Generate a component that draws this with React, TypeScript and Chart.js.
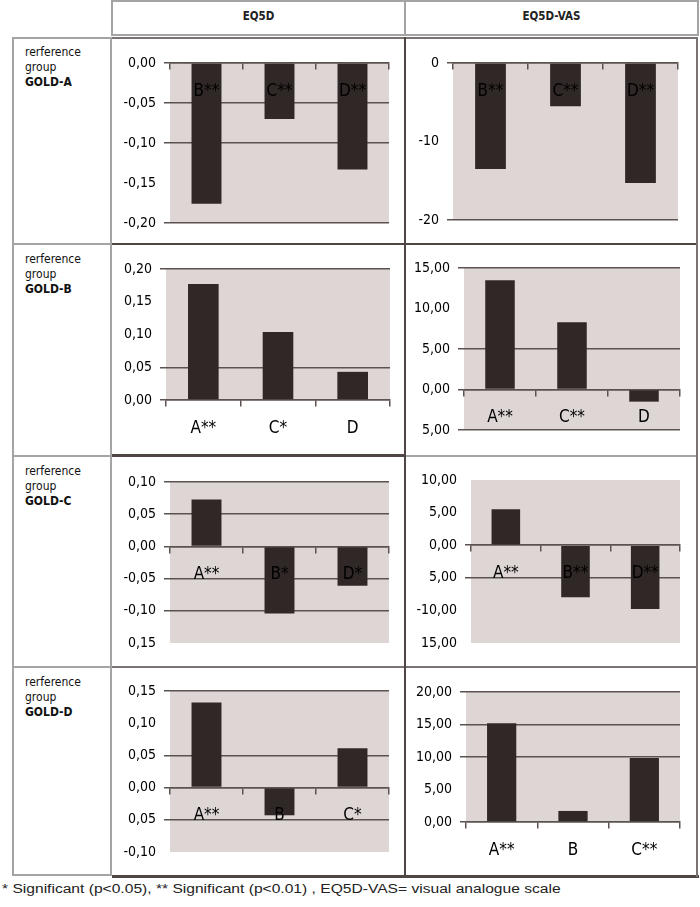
import React, { useEffect, useRef } from "react";
import { Chart, registerables } from "chart.js";
Chart.register(...registerables);

// ---------- data ----------
const columnTitles = ["EQ5D", "EQ5D-VAS"];
const rowLine1 = "rerference";
const rowLine2 = "group";
const rowGroups = ["GOLD-A", "GOLD-B", "GOLD-C", "GOLD-D"];
const footnote = "* Significant (p<0.05), ** Significant (p<0.01) , EQ5D-VAS= visual analogue scale";

// GOLD-A reference
const catsA = ["B**", "C**", "D**"];
const eq5dA = [-0.176, -0.07, -0.133];
const vasA = [-13.5, -5.5, -15.3];
const eq5dRangeA = [-0.2, 0, 0.05];
const vasRangeA = [-20, 0, 10];
const eq5dTicksA = ["0,00", "-0,05", "-0,10", "-0,15", "-0,20"];
const vasTicksA = ["0", "-10", "-20"];

// GOLD-B reference
const catsBeq = ["A**", "C*", "D"];
const catsBvas = ["A**", "C**", "D"];
const eq5dB = [0.177, 0.104, 0.043];
const vasB = [13.5, 8.3, -1.5];
const eq5dRangeB = [0, 0.2, 0.05];
const vasRangeB = [-5, 15, 5];
const eq5dTicksB = ["0,20", "0,15", "0,10", "0,05", "0,00"];
const vasTicksB = ["15,00", "10,00", "5,00", "0,00", "5,00"];

// GOLD-C reference
const catsCeq = ["A**", "B*", "D*"];
const catsCvas = ["A**", "B**", "D**"];
const eq5dC = [0.073, -0.104, -0.061];
const vasC = [5.5, -8.0, -9.8];
const eq5dRangeC = [-0.15, 0.1, 0.05];
const vasRangeC = [-15, 10, 5];
const eq5dTicksC = ["0,10", "0,05", "0,00", "-0,05", "-0,10", "0,15"];
const vasTicksC = ["10,00", "5,00", "0,00", "5,00", "-10,00", "15,00"];

// GOLD-D reference
const catsDeq = ["A**", "B", "C*"];
const catsDvas = ["A**", "B", "C**"];
const eq5dD = [0.132, -0.043, 0.061];
const vasD = [15.2, 1.7, 9.85];
const eq5dRangeD = [-0.1, 0.15, 0.05];
const vasRangeD = [0, 20, 5];
const eq5dTicksD = ["0,15", "0,10", "0,05", "0,00", "0,05", "-0,10"];
const vasTicksD = ["20,00", "15,00", "10,00", "5,00", "0,00"];

// ---------- styles ----------
const PLOT_BG = "#ddd6d4";
const BAR = "#302826";
const GRID = "#5c5351";
const COND = "'DejaVu Sans Condensed', 'Liberation Sans Narrow', 'DejaVu Sans', sans-serif";
const GRAY = "#a4a4a4";
const DARK = "#4f4644";
const MID = "#7b7371";

type Panel = {
  labels: string[];
  values: number[];
  range: number[];
  tickLabels: string[];
  hiddenGrid: number[];
  box: number[]; // canvas left, top, width, height
  area: number[]; // plot left, top, right, bottom
};

const panels: Panel[] = [
  { labels: catsA, values: eq5dA, range: eq5dRangeA, tickLabels: eq5dTicksA, hiddenGrid: [-0.15],
    box: [113, 38, 291, 205], area: [170, 63, 389, 223] },
  { labels: catsA, values: vasA, range: vasRangeA, tickLabels: vasTicksA, hiddenGrid: [-10],
    box: [406, 38, 290, 205], area: [453, 63, 678, 220] },
  { labels: catsBeq, values: eq5dB, range: eq5dRangeB, tickLabels: eq5dTicksB, hiddenGrid: [0.15, 0.1],
    box: [113, 246, 291, 209], area: [166, 269, 390, 400] },
  { labels: catsBvas, values: vasB, range: vasRangeB, tickLabels: vasTicksB, hiddenGrid: [10],
    box: [406, 246, 290, 209], area: [464, 268, 680, 430] },
  { labels: catsCeq, values: eq5dC, range: eq5dRangeC, tickLabels: eq5dTicksC, hiddenGrid: [-0.15],
    box: [113, 458, 291, 208], area: [170, 482, 389, 643] },
  { labels: catsCvas, values: vasC, range: vasRangeC, tickLabels: vasTicksC, hiddenGrid: [10, 5, -10, -15],
    box: [406, 458, 290, 208], area: [471, 480, 680, 643] },
  { labels: catsDeq, values: eq5dD, range: eq5dRangeD, tickLabels: eq5dTicksD, hiddenGrid: [0.1, -0.1],
    box: [113, 669, 291, 206], area: [170, 691, 389, 852] },
  { labels: catsDvas, values: vasD, range: vasRangeD, tickLabels: vasTicksD, hiddenGrid: [5],
    box: [406, 669, 290, 206], area: [466, 692, 680, 822] },
];

const bgPlugin = {
  id: "plotBg",
  beforeDraw(chart: any) {
    const { ctx, chartArea } = chart;
    ctx.save();
    ctx.fillStyle = PLOT_BG;
    ctx.fillRect(chartArea.left, chartArea.top, chartArea.right - chartArea.left, chartArea.bottom - chartArea.top);
    ctx.restore();
  },
};

function BarPanel({ p }: { p: Panel }) {
  const ref = useRef<HTMLCanvasElement | null>(null);
  const [bx, by, bw, bh] = p.box;
  useEffect(() => {
    const [al, at, ar, ab] = p.area;
    const [min, max, step] = p.range;
    const hidden = (v: any) =>
      typeof v === "number" && p.hiddenGrid.some((h) => Math.abs(h - v) < step / 100);
    const chart = new Chart(ref.current as HTMLCanvasElement, {
      type: "bar",
      data: {
        labels: p.labels,
        datasets: [
          {
            data: p.values,
            backgroundColor: BAR,
            borderWidth: 0,
            barPercentage: 0.41,
            categoryPercentage: 1,
          },
        ],
      },
      options: {
        animation: false,
        responsive: false,
        layout: { padding: { left: 0, top: at - by, right: bx + bw - ar, bottom: by + bh - ab } },
        plugins: { legend: { display: false }, tooltip: { enabled: false }, title: { display: false } },
        scales: {
          x: {
            type: "category",
            position: { y: 0 } as any,
            offset: true,
            grid: {
              display: true,
              offset: true,
              drawOnChartArea: false,
              drawTicks: true,
              tickLength: 6,
              color: GRID,
              lineWidth: 1.5,
            },
            border: { display: true, color: GRID, width: 1.5 },
            ticks: {
              color: "#000",
              font: { family: COND, size: 17 },
              padding: 12,
              maxRotation: 0,
              autoSkip: false,
              z: 1,
            } as any,
          },
          y: {
            type: "linear",
            min,
            max,
            afterFit: (s: any) => {
              s.width = al - bx;
            },
            grid: {
              color: (c: any) => (hidden(c.tick && c.tick.value) ? "rgba(0,0,0,0)" : GRID),
              lineWidth: 1.5,
              tickLength: 6,
              drawTicks: true,
            },
            border: { display: false },
            ticks: {
              stepSize: step,
              color: "#000",
              font: { family: COND, size: 14 },
              padding: 8,
              callback: (v: any) => p.tickLabels[Math.round((max - Number(v)) / step)] ?? "",
            },
          },
        },
      },
      plugins: [bgPlugin],
    });
    return () => chart.destroy();
  }, []);
  return (
    <canvas
      ref={ref}
      width={bw}
      height={bh}
      style={{ position: "absolute", left: bx, top: by, width: bw, height: bh }}
    />
  );
}

type Line = [number, number, number, number, string];
const lines: Line[] = [
  // header
  [111, 0, 588, 2, GRAY],
  [111, 34, 588, 2, GRAY],
  [111, 0, 2, 36, GRAY],
  [404, 0, 2, 36, GRAY],
  [697, 0, 2, 36, GRAY],
  // left column
  [12, 37, 2, 839, GRAY],
  [110, 37, 2, 839, GRAY],
  [12, 37, 100, 2, GRAY],
  [12, 243, 100, 2, GRAY],
  [12, 455, 100, 2, GRAY],
  [12, 666, 100, 2, GRAY],
  [12, 874, 100, 2, GRAY],
  // chart cells
  [112, 37, 586, 2, MID],
  [112, 243, 586, 2, DARK],
  [112, 454, 293, 3, DARK],
  [405, 455, 293, 2, GRAY],
  [112, 666, 586, 2, MID],
  [112, 875, 587, 3, DARK],
  [404, 37, 2, 840, DARK],
  [696, 37, 2, 840, MID],
];

const rowTops = [37, 244, 456, 667];

export default function App() {
  return (
    <div
      style={{
        position: "absolute",
        left: 0,
        top: 0,
        width: 700,
        height: 907,
        background: "#fff",
        overflow: "hidden",
      }}
    >
      {lines.map(([x, y, w, h, c], i) => (
        <div key={"l" + i} style={{ position: "absolute", left: x, top: y, width: w, height: h, background: c }} />
      ))}
      <div
        style={{
          position: "absolute", left: 112, top: 9, width: 293, textAlign: "center",
          font: `bold 11.5px ${COND}`, color: "#222",
        }}
      >
        {columnTitles[0]}
      </div>
      <div
        style={{
          position: "absolute", left: 405, top: 9, width: 293, textAlign: "center",
          font: `bold 11.5px ${COND}`, color: "#222",
        }}
      >
        {columnTitles[1]}
      </div>
      {rowGroups.map((g, i) => (
        <div
          key={g}
          style={{
            position: "absolute", left: 25, top: rowTops[i] + 8, font: `12px ${COND}`,
            lineHeight: "15px", color: "#111",
          }}
        >
          <div>{rowLine1}</div>
          <div>{rowLine2}</div>
          <div style={{ fontWeight: "bold" }}>{g}</div>
        </div>
      ))}
      {panels.map((p, i) => (
        <BarPanel key={i} p={p} />
      ))}
      <div
        style={{
          position: "absolute", left: 2, top: 882, font: "12px 'Liberation Sans', Arial, sans-serif",
          color: "#222", whiteSpace: "nowrap", transform: "scaleX(1.3)", transformOrigin: "0 0",
        }}
      >
        {footnote}
      </div>
    </div>
  );
}
